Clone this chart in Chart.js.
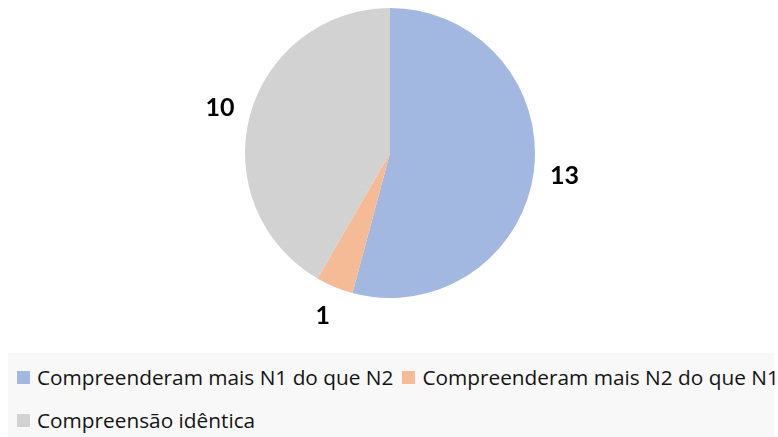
<!DOCTYPE html>
<html>
<head>
<meta charset="utf-8">
<script src="https://cdn.jsdelivr.net/npm/chart.js@4"></script>
<style>
  body { margin: 0; background: #fff; width: 778px; height: 437px; overflow: hidden; position: relative; font-family: "Open Sans", Lato, sans-serif; }
  #pie { position: absolute; left: 0; top: 0; }
  #legend { position: absolute; left: 8px; top: 353px; width: 766px; height: 84px; background: #f8f8f8; }
  #legend ul { list-style: none; margin: 0; padding: 11px 0 0 9px; width: 790px; box-sizing: border-box; display: flex; flex-wrap: wrap; }
  #legend li { display: flex; align-items: center; height: 26px; margin: 0 9px 17px 0; font-size: 20.8px; color: #141414; white-space: nowrap; }
  #legend li span { display: inline-block; width: 13px; height: 13px; margin-right: 7px; }
</style>
</head>
<body>
<canvas id="pie" width="778" height="340"></canvas>
<div id="legend"></div>
<script>
// dados do gráfico
var categorias = ['Compreenderam mais N1 do que N2', 'Compreenderam mais N2 do que N1', 'Compreensão idêntica'];
var valores = [13, 1, 10];
var cores = ['#a2b8e1', '#f5ba96', '#d2d2d2'];

// rótulos em negrito fora das fatias
var rotulosFora = {
  id: 'rotulosFora',
  afterDatasetsDraw: function (chart) {
    var ctx = chart.ctx;
    var meta = chart.getDatasetMeta(0);
    ctx.save();
    ctx.font = 'bold 25px Lato, sans-serif';
    ctx.fillStyle = '#000';
    ctx.textAlign = 'center';
    ctx.textBaseline = 'middle';
    meta.data.forEach(function (arc, i) {
      var ang = (arc.startAngle + arc.endAngle) / 2;
      var r = arc.outerRadius + 31;
      ctx.fillText(String(valores[i]), arc.x + Math.cos(ang) * r, arc.y + Math.sin(ang) * r);
    });
    ctx.restore();
  }
};

// legenda em HTML a partir dos itens do Chart.js
var legendaHtml = {
  id: 'legendaHtml',
  afterUpdate: function (chart) {
    var box = document.getElementById('legend');
    box.innerHTML = '';
    var ul = document.createElement('ul');
    var itens = chart.options.plugins.legend.labels.generateLabels(chart);
    itens.forEach(function (item) {
      var li = document.createElement('li');
      var sq = document.createElement('span');
      sq.style.background = item.fillStyle;
      li.appendChild(sq);
      li.appendChild(document.createTextNode(item.text));
      ul.appendChild(li);
    });
    box.appendChild(ul);
  }
};

var ctx = document.getElementById('pie').getContext('2d');
var grafico = new Chart(ctx, {
  type: 'pie',
  data: {
    labels: categorias,
    datasets: [{
      data: valores,
      backgroundColor: cores,
      borderWidth: 0,
      hoverBorderWidth: 0,
      hoverOffset: 0
    }]
  },
  options: {
    responsive: false,
    animation: false,
    layout: { padding: { top: 8, bottom: 42, left: 2, right: 0 } },
    plugins: {
      legend: { display: false },
      tooltip: { enabled: false }
    }
  },
  plugins: [rotulosFora, legendaHtml]
});
</script>
</body>
</html>
